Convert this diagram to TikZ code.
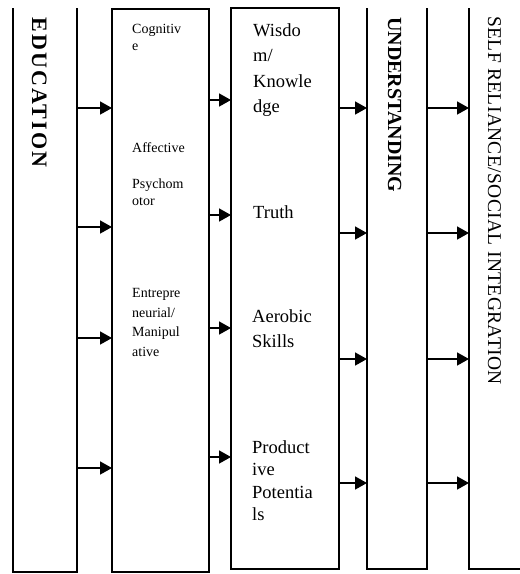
\documentclass[tikz,border=0pt]{standalone}
\usepackage{fontspec}
\setmainfont{Liberation Serif}
\usetikzlibrary{arrows.meta}
\begin{document}
\begin{tikzpicture}[x=1pt,y=-1pt,
  frame/.style={line width=2.6pt},
  boxnode/.style={inner sep=0pt, outer sep=0pt},
  arr/.style={line width=1.6pt, -{Triangle[length=12pt,width=13pt]}},
  small/.style={font=\fontsize{14}{17}\selectfont, align=left, anchor=base west, inner sep=0pt},
  big/.style={font=\fontsize{18.5}{25.5}\selectfont, align=left, anchor=base west, inner sep=0pt},
  vert/.style={rotate=-90, anchor=base west, inner sep=0pt}
]
\useasboundingbox (0,0) rectangle (520,574);
% boxes
\node[boxnode, minimum width=64pt, minimum height=564pt] (b1) at (45,290) {};
\draw[frame] (b1.north west) -- (b1.south west) -- (b1.south east) -- (b1.north east);
\node[boxnode, draw, frame, minimum width=97pt, minimum height=563pt] (b2) at (160.5,290.5) {};
\node[boxnode, draw, frame, minimum width=108pt, minimum height=561pt] (b3) at (285,288.5) {};
\node[boxnode, minimum width=60pt, minimum height=561pt] (b4) at (397,288.5) {};
\draw[frame] (b4.north west) -- (b4.south west) -- (b4.south east) -- (b4.north east);
\node[boxnode, minimum width=61pt, minimum height=561pt] (b5) at (499.5,288.5) {};
\draw[frame] (b5.north west) -- (b5.south west) -- (b5.south east);
% arrows
\foreach \y in {108,227,338,468} \draw[arr] (b1.east |- 0,\y) -- (b2.west |- 0,\y);
\foreach \y in {100,215,328,457} \draw[arr] (b2.east |- 0,\y) -- (b3.west |- 0,\y);
\foreach \y in {108,233,359,483} \draw[arr] (b3.east |- 0,\y) -- (b4.west |- 0,\y);
\foreach \y in {108,233,359,483} \draw[arr] (b4.east |- 0,\y) -- (b5.west |- 0,\y);
% vertical titles
\node[vert, font=\fontsize{22}{22}\selectfont\bfseries\addfontfeature{LetterSpace=10}] (t1) at (32,17) {EDUCATION};
\node[vert, font=\fontsize{20}{20}\selectfont\bfseries] (t4) at (388,17) {UNDERSTANDING};
\node[vert, font=\fontsize{19.5}{20}\selectfont\addfontfeature{LetterSpace=2}] (t5) at (488,16) {SELF RELIANCE/SOCIAL INTEGRATION};
% box 2 texts
\node[small] (c1) at (132,50) {Cognitiv\\e};
\node[small] (c2) at (132,152) {Affective};
\node[small] (c3) at (132,205) {Psychom\\otor};
\node[small, font=\fontsize{14}{19.4}\selectfont] (c4) at (132,356) {Entrepre\\neurial/\\Manipul\\ative};
% box 3 texts
\node[big] (w1) at (253,112.5) {Wisdo\\m/\\Knowle\\dge};
\node[big] (w2) at (253,218) {Truth};
\node[big, font=\fontsize{18.5}{25}\selectfont] (w3) at (252,347) {Aerobic\\Skills};
\node[big, font=\fontsize{18.5}{22.5}\selectfont] (w4) at (252,520.5) {Product\\ive\\Potentia\\ls};
\end{tikzpicture}
\end{document}
